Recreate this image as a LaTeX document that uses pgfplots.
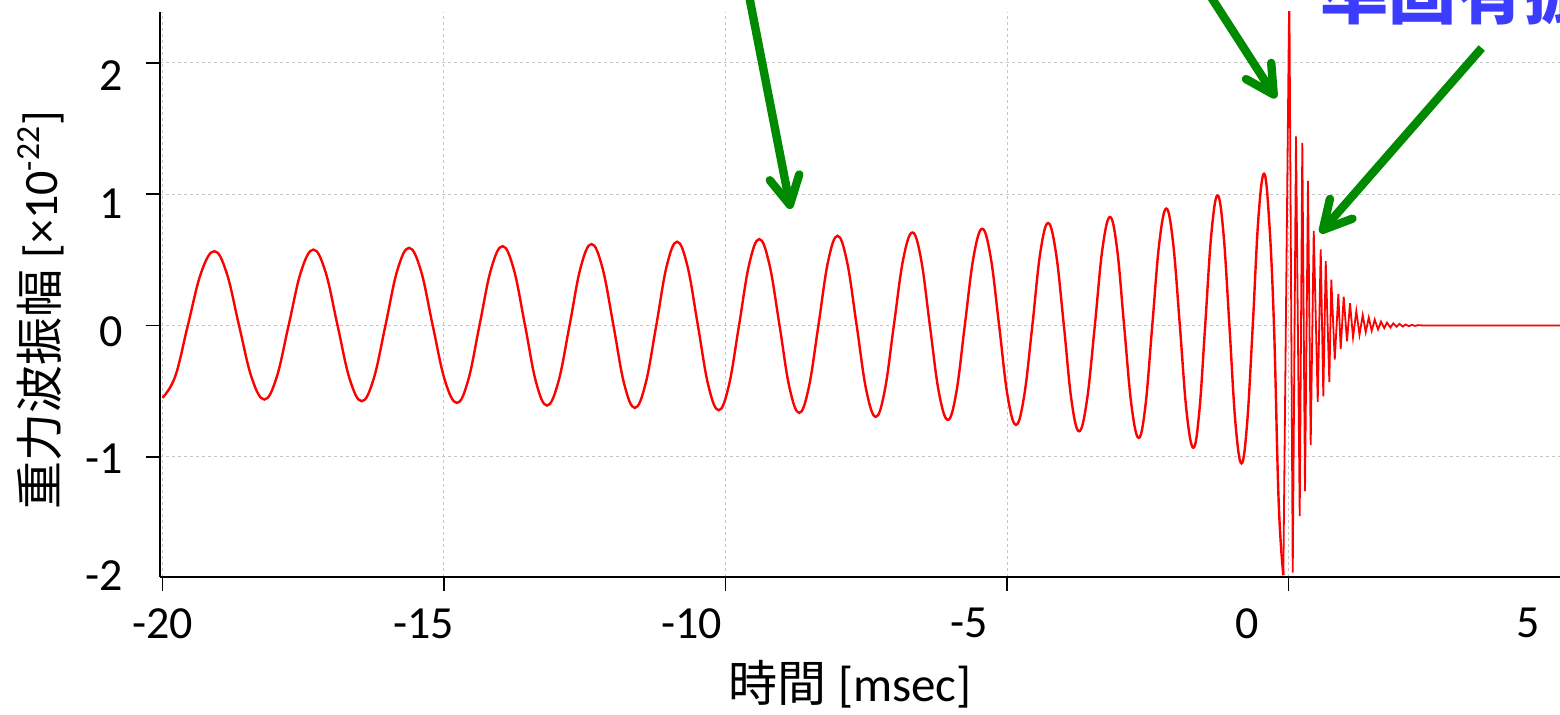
\documentclass[border=0pt]{standalone}
\usepackage{fontspec}
\setmainfont{Carlito}
\newfontfamily\cjk{Noto Sans CJK JP}
\usepackage{pgfplots}
\pgfplotsset{compat=1.18}
\usetikzlibrary{arrows.meta}
\definecolor{arrgreen}{RGB}{0,138,0}
\definecolor{txtblue}{RGB}{60,60,255}
\begin{document}
\begin{tikzpicture}
\begin{axis}[
  at={(0,0)}, anchor=south west,
  scale only axis, width=700pt, height=282.25pt,
  xmin=-20.044, xmax=4.822, ymin=-1.91, ymax=2.386,
  axis x line*=bottom, axis y line*=left,
  axis line style={line width=1pt, black},
  tick align=outside,
  major tick length=7pt,
  xtick={-20,-15,-10,-5,0}, xticklabels={},
  ytick={-1,0,1,2}, yticklabels={},
  tick style={line width=0.8pt, black},
  extra x ticks={-20,-15.36,-10.6,-5.67,-0.73,4.26},
  extra x tick labels={-20,-15,-10,-5,0,5},
  extra y ticks={1.90,0.925,-0.046,-1.016,-1.905},
  extra y tick labels={2,1,0,-1,-2},
  extra x tick style={grid=none, major tick style={draw=none}},
  extra y tick style={grid=none, major tick style={draw=none}},
  tick label style={font=\fontsize{23}{23}\selectfont},
  xticklabel style={anchor=north, inner sep=0pt, yshift=-8.75pt},
  yticklabel style={anchor=east, inner sep=0pt, xshift=-11.5pt},
  grid=major,
  grid style={line width=0.5pt, gray!45, dash pattern=on 1.5pt off 1.5pt},
  xlabel={{\cjk 時間} [msec]},
  xlabel style={at={([yshift=-62.5pt]rel axis cs:0.493,0)}, anchor=base, inner sep=0pt, font=\fontsize{24.5}{24.5}\selectfont},
  ylabel={{\cjk 重力波振幅} [×10\textsuperscript{-22}]},
  ylabel style={at={([xshift=-51pt]rel axis cs:0,0.472)}, anchor=base, inner sep=0pt, font=\fontsize{24}{24}\selectfont},
  clip mode=individual,
]
\addplot[red, line width=1.2pt, smooth, tension=0.65] coordinates {
(-20.00,-0.55) (-19.775,-0.389) (-19.55,0) (-19.315,0.400) (-19.08,0.566) (-18.86,0.400)
(-18.64,0) (-18.415,-0.398) (-18.19,-0.563) (-17.975,-0.398) (-17.76,0) (-17.54,0.409)
(-17.32,0.578) (-17.105,0.409) (-16.89,0) (-16.675,-0.407) (-16.46,-0.576) (-16.25,-0.407)
(-16.04,0) (-15.83,0.418) (-15.62,0.591) (-15.41,0.418) (-15.20,0) (-14.985,-0.416)
(-14.77,-0.589) (-14.57,-0.416) (-14.37,0) (-14.165,0.427) (-13.96,0.604) (-13.76,0.427)
(-13.56,0) (-13.365,-0.431) (-13.17,-0.609) (-12.97,-0.431) (-12.77,0) (-12.575,0.438)
(-12.38,0.620) (-12.185,0.438) (-11.99,0) (-11.80,-0.443) (-11.61,-0.627) (-11.42,-0.443)
(-11.23,0) (-11.045,0.451) (-10.86,0.638) (-10.675,0.451) (-10.49,0) (-10.305,-0.456)
(-10.12,-0.645) (-9.94,-0.456) (-9.76,0) (-9.58,0.465) (-9.40,0.658) (-9.22,0.465)
(-9.04,0) (-8.865,-0.470) (-8.69,-0.665) (-8.52,-0.470) (-8.35,0) (-8.18,0.483)
(-8.01,0.683) (-7.84,0.483) (-7.67,0) (-7.50,-0.491) (-7.33,-0.695) (-7.17,-0.491)
(-7.01,0) (-6.845,0.501) (-6.68,0.708) (-6.525,0.501) (-6.37,0) (-6.21,-0.508)
(-6.05,-0.718) (-5.90,-0.508) (-5.75,0) (-5.595,0.520) (-5.44,0.736) (-5.29,0.520)
(-5.14,0) (-4.99,-0.535) (-4.84,-0.756) (-4.695,-0.535) (-4.55,0) (-4.41,0.551)
(-4.27,0.780) (-4.13,0.551) (-3.99,0) (-3.855,-0.569) (-3.72,-0.805) (-3.58,-0.569)
(-3.44,0) (-3.305,0.584) (-3.17,0.826) (-3.045,0.584) (-2.92,0) (-2.79,-0.605)
(-2.66,-0.855) (-2.54,-0.605) (-2.42,0) (-2.295,0.629) (-2.17,0.890) (-2.05,0.629)
(-1.93,0) (-1.81,-0.658) (-1.69,-0.930) (-1.585,-0.658) (-1.48,0) (-1.37,0.700)
(-1.26,0.990) (-1.155,0.700) (-1.05,0) (-0.9425,-0.742) (-0.835,-1.05) (-0.735,-0.742)
(-0.635,0) (-0.535,0.817) (-0.435,1.155) (-0.3465,0.817) (-0.258,0) (-0.175,-1.34)
(-0.092,-1.90)
};
\addplot[red, line width=0.9pt] coordinates {
(-0.092,-1.90) (0.014,2.60) (0.075,-1.88) (0.133,1.44) (0.199,-1.45) (0.245,1.39)
(0.293,-1.26) (0.346,1.10) (0.394,-0.91) (0.448,0.72) (0.519,-0.58) (0.572,0.58)
(0.618,-0.54) (0.661,0.49) (0.725,-0.43) (0.760,0.35) (0.821,-0.26) (0.885,0.24)
(0.927,-0.18) (0.980,0.22) (1.039,-0.12) (1.092,0.17) (1.146,-0.09) (1.204,0.11)
(1.261,-0.07) (1.318,0.08) (1.371,-0.05) (1.425,0.06) (1.478,-0.04) (1.531,0.045)
(1.590,-0.03) (1.643,0.03) (1.70,-0.02) (1.75,0.022) (1.81,-0.015) (1.86,0.016)
(1.92,-0.01) (1.97,0.012) (2.03,-0.008) (2.08,0.008) (2.14,-0.005) (2.19,0.005)
(2.25,-0.003) (2.30,0.003) (2.40,0) (4.822,0)
};
\draw[arrgreen, line width=4.2pt, -{Straight Barb[length=14pt,width=15pt,round]}]
  (axis cs:-9.636,2.629) -- (axis cs:-8.842,0.887);
\draw[arrgreen, line width=4.2pt, -{Straight Barb[length=14pt,width=15pt,round]}]
  (axis cs:-1.570,2.629) -- (axis cs:-0.222,1.731);
\draw[arrgreen, line width=4.2pt, -{Straight Barb[length=14pt,width=15pt,round]}]
  (axis cs:3.432,2.112) -- (axis cs:0.560,0.704);
\node[anchor=base west, inner sep=0pt, text=txtblue, font=\cjk\bfseries\fontsize{34}{34}\selectfont]
  at (axis cs:0.56,2.34) {準固有振動};
\end{axis}
\pgfresetboundingbox
\path (-80pt,-68.75pt) rectangle (700pt,288.25pt);
\end{tikzpicture}
\end{document}
